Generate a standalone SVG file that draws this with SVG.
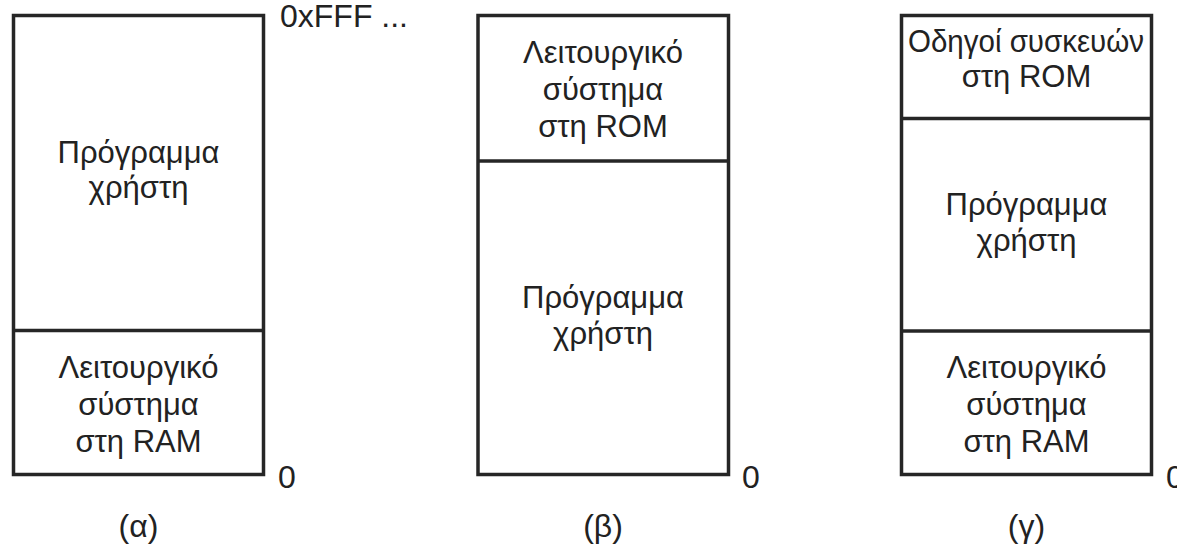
<svg xmlns="http://www.w3.org/2000/svg" width="1177" height="555" viewBox="0 0 1177 555">
<style>
.box{fill:#fff;stroke:#262626;stroke-width:3.5}
.div{stroke:#262626;stroke-width:3.5}
text{font-family:"Liberation Sans",Arial,sans-serif;font-size:31px;fill:#222}
.c{text-anchor:middle}
.n{font-size:32px}
</style>
<rect width="1177" height="555" fill="#fff"/>
<g id="memA">
<rect class="box" x="13.5" y="15.5" width="250" height="459"/>
<line class="div" x1="13.5" y1="330.5" x2="263.5" y2="330.5"/>
<text class="c" x="138.5" y="163">Πρόγραμμα</text>
<text class="c" x="138.5" y="198">χρήστη</text>
<text class="c" x="138.5" y="378">Λειτουργικό</text>
<text class="c" x="138.5" y="415">σύστημα</text>
<text class="c" x="138.5" y="452">στη RAM</text>
<text class="n" x="280" y="27">0xFFF ...</text>
<text class="n" x="278" y="488">0</text>
<text class="c n" x="138.5" y="537">(α)</text>
</g>
<g id="memB">
<rect class="box" x="478" y="15.5" width="250.5" height="459"/>
<line class="div" x1="478" y1="161" x2="728.5" y2="161"/>
<text class="c" x="603" y="63">Λειτουργικό</text>
<text class="c" x="603" y="100">σύστημα</text>
<text class="c" x="603" y="137">στη ROM</text>
<text class="c" x="603" y="308">Πρόγραμμα</text>
<text class="c" x="603" y="344">χρήστη</text>
<text class="n" x="742" y="488">0</text>
<text class="c n" x="603" y="537">(β)</text>
</g>
<g id="memC">
<rect class="box" x="901.5" y="15.5" width="250" height="459"/>
<line class="div" x1="901.5" y1="118.5" x2="1151.5" y2="118.5"/>
<line class="div" x1="901.5" y1="331" x2="1151.5" y2="331"/>
<text class="c" x="1026" y="52" textLength="236" lengthAdjust="spacingAndGlyphs">Οδηγοί συσκευών</text>
<text class="c" x="1026.5" y="87">στη ROM</text>
<text class="c" x="1026.5" y="215">Πρόγραμμα</text>
<text class="c" x="1026.5" y="251">χρήστη</text>
<text class="c" x="1026.5" y="378">Λειτουργικό</text>
<text class="c" x="1026.5" y="415">σύστημα</text>
<text class="c" x="1026.5" y="452">στη RAM</text>
<text class="n" x="1166" y="488">0</text>
<text class="c n" x="1026.5" y="537">(γ)</text>
</g>
<g id="connectors"></g>
</svg>
